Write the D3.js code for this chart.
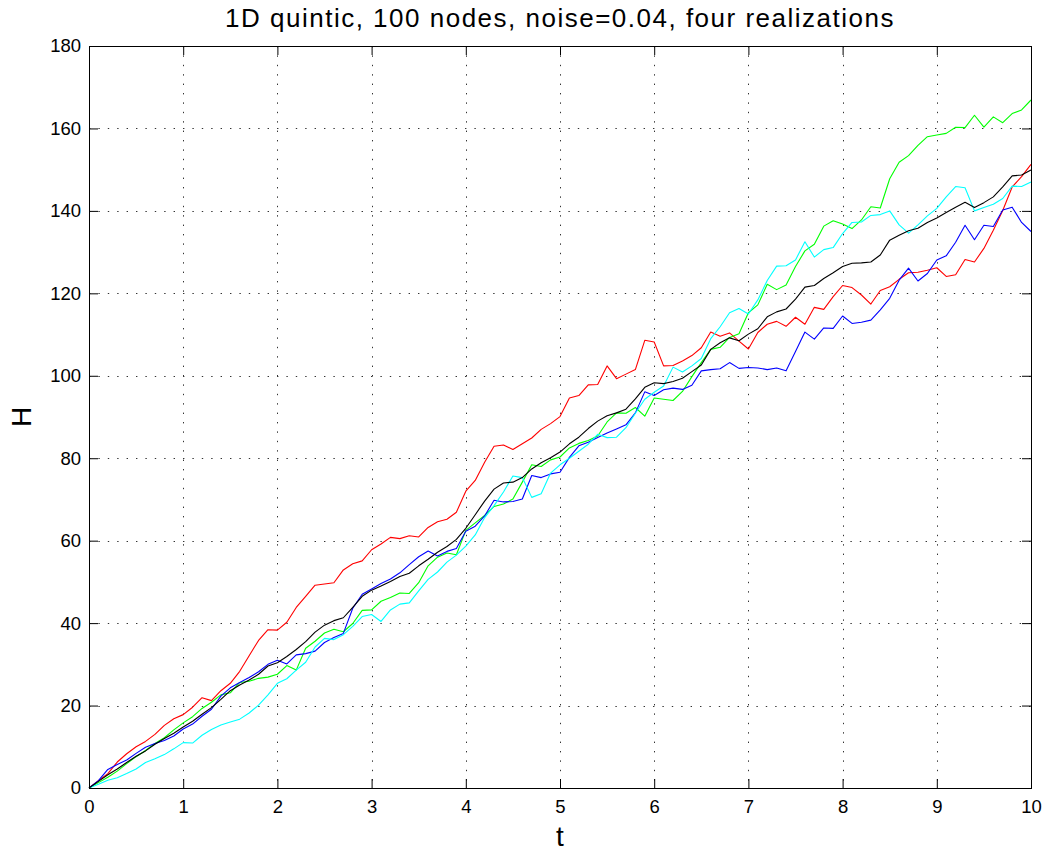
<!DOCTYPE html>
<html>
<head>
<meta charset="utf-8">
<script src="https://cdn.jsdelivr.net/npm/d3@7"></script>
<style>
  body { margin: 0; background: #fff; }
  text { font-family: "Liberation Sans", Arial, sans-serif; fill: #000; }
</style>
</head>
<body>
<svg id="chart" width="1044" height="852"></svg>
<script>
// tick labels
var xTicks = [0, 1, 2, 3, 4, 5, 6, 7, 8, 9, 10];
var yTicks = [0, 20, 40, 60, 80, 100, 120, 140, 160, 180];

// sample spacing in t (values below are read every 0.1)
var tStep = 0.1;

// H, one value per 0.1 in t
var redH = [0, 1.8, 3.5, 6.3, 8.3, 10, 11.3, 13, 15.2, 16.8,
  17.8, 19.6, 21.9, 21.2, 23.6, 25.4, 28.3, 32.1, 35.8, 38.4,
  38.3, 40.2, 43.8, 46.5, 49.2, 49.5, 49.8, 52.9, 54.4, 55.1,
  57.8, 59.2, 60.8, 60.5, 61.2, 60.9, 63.2, 64.6, 65.2, 66.9,
  72.0, 74.6, 79.0, 82.9, 83.2, 82.1, 83.5, 84.9, 87.0, 88.4,
  90.1, 94.6, 95.2, 97.8, 97.9, 102.4, 99.3, 100.4, 101.5, 108.6,
  108.2, 102.4, 102.5, 103.6, 104.9, 106.8, 110.6, 109.6, 110.4, 108.4,
  106.5, 110.5, 112.5, 113.2, 112.0, 114.2, 112.5, 116.6, 116.1, 119.2,
  121.9, 121.4, 119.6, 117.4, 120.7, 121.6, 123.4, 125.0, 125.1, 125.6,
  126.2, 124.1, 124.5, 128.2, 127.6, 130.9, 135.3, 140.1, 145.8, 148.3,
  151.3];

var greenH = [0, 1.3, 2.6, 4.1, 5.9, 7.6, 9.1, 10.8, 12.2, 14.1,
  15.8, 17.3, 19.3, 20.8, 22.6, 23.1, 25.6, 25.9, 26.6, 26.9,
  27.6, 29.7, 28.6, 33.9, 35.6, 37.6, 38.5, 37.9, 39.9, 43.1,
  43.2, 45.3, 46.2, 47.3, 47.2, 49.8, 53.9, 56.0, 57.0, 56.6,
  62.5, 64.3, 66.1, 68.3, 68.9, 70.1, 74.2, 78.4, 78.0, 79.6,
  80.3, 82.5, 83.6, 84.3, 85.4, 88.8, 91.0, 90.9, 92.3, 90.2,
  94.6, 94.3, 94.0, 96.2, 99.8, 103.2, 106.4, 106.9, 109.3, 110.2,
  115.3, 117.2, 122.2, 120.9, 122.0, 126.5, 130.3, 131.9, 136.3, 137.6,
  136.8, 135.7, 137.8, 141.0, 140.7, 147.8, 151.8, 153.4, 155.9, 158.0,
  158.4, 158.8, 160.3, 160.2, 163.2, 160.3, 162.8, 161.4, 163.6, 164.5,
  166.9];

var blueH = [0, 1.8, 4.5, 5.7, 6.8, 8.4, 9.9, 10.8, 11.5, 12.6,
  14.3, 15.5, 17.4, 19.1, 22.3, 24.3, 25.6, 26.8, 28.2, 30.0,
  31.0, 30.1, 32.3, 32.6, 33.2, 35.3, 36.5, 37.5, 43.6, 47.0,
  48.3, 49.6, 50.7, 52.2, 54.2, 56.1, 57.5, 56.3, 57.4, 58.1,
  62.3, 63.5, 66.0, 69.8, 69.4, 69.5, 70.1, 75.8, 75.3, 76.2,
  76.6, 80.2, 83.0, 83.9, 85.0, 86.1, 87.1, 88.1, 91.0, 96.1,
  95.2, 96.6, 97.0, 96.7, 97.7, 101.2, 101.5, 101.7, 103.2, 101.8,
  102.0, 101.9, 101.5, 101.9, 101.2, 105.9, 110.6, 108.9, 111.6, 111.5,
  114.5, 112.7, 113.0, 113.5, 116.0, 118.8, 123.2, 126.1, 123.0, 124.8,
  128.1, 129.1, 132.4, 136.5, 133.0, 136.5, 136.2, 140.2, 140.9, 137.2,
  135.0];

var cyanH = [0, 0.9, 1.9, 2.5, 3.5, 4.6, 6.2, 7.1, 8.1, 9.5,
  11.0, 10.9, 12.8, 14.2, 15.3, 16.0, 16.7, 18.2, 20.1, 22.6,
  25.4, 26.5, 28.6, 30.5, 34.2, 36.3, 36.0, 37.2, 39.2, 41.6,
  42.1, 40.4, 43.2, 44.6, 44.9, 47.8, 50.6, 52.4, 54.8, 56.5,
  58.7, 61.4, 65.6, 68.5, 71.8, 75.7, 75.3, 70.5, 71.4, 76.4,
  78.4, 80.0, 81.7, 83.4, 85.8, 85.0, 85.1, 87.4, 90.9, 94.3,
  96.0, 97.5, 102.1, 100.9, 102.4, 104.2, 109.0, 111.9, 115.3, 116.3,
  115.0, 118.4, 123.1, 126.6, 126.7, 128.1, 132.5, 128.8, 130.6, 131.1,
  134.5, 137.2, 137.3, 138.9, 139.1, 140.0, 136.6, 134.6, 136.6, 138.8,
  140.6, 143.4, 145.9, 145.6, 140.0, 140.8, 141.6, 143.0, 146.0, 145.9,
  147.0];

var meanH = [0, 1.6, 3.2, 4.6, 6.2, 7.7, 9.0, 10.6, 12.0, 13.3,
  14.8, 16.2, 17.9, 19.5, 21.5, 23.6, 25.0, 26.2, 27.6, 29.6,
  30.4, 31.9, 33.6, 35.5, 37.8, 39.5, 40.6, 41.3, 43.8, 46.5,
  48.0, 49.0, 50.1, 51.3, 52.1, 53.9, 55.5, 57.2, 58.6, 60.3,
  63.0, 66.3, 69.6, 72.5, 74.0, 74.2, 75.3, 77.4, 78.9, 80.1,
  81.5, 83.5, 85.1, 87.2, 89.0, 90.3, 91.0, 91.9, 94.4, 97.2,
  98.3, 98.1, 98.6, 99.4, 101.0, 102.6, 106.4, 108.0, 109.2, 108.5,
  110.1, 111.4, 114.3, 115.5, 116.2, 118.6, 121.5, 121.9, 123.6, 125.0,
  126.5, 127.3, 127.4, 127.6, 129.3, 132.9, 134.1, 135.2, 135.8, 137.2,
  138.3, 139.6, 140.9, 142.1, 140.8, 142.0, 143.4, 145.8, 148.5, 148.7,
  149.9];

var seriesList = [
  { name: "red", values: redH, color: "#ff0000" },
  { name: "green", values: greenH, color: "#00ff00" },
  { name: "blue", values: blueH, color: "#0000ff" },
  { name: "cyan", values: cyanH, color: "#00ffff" },
  { name: "mean", values: meanH, color: "#000000" }
];

// plot box
var boxLeft = 89, boxRight = 1031, boxTop = 46, boxBottom = 788;

var svg = d3.select("#chart");

var x = d3.scaleLinear().domain([0, 10]).range([boxLeft, boxRight]);
var y = d3.scaleLinear().domain([0, 180]).range([boxBottom, boxTop]);

// dotted grid
svg.append("g")
  .selectAll("line")
  .data(xTicks.slice(1, -1))
  .enter()
  .append("line")
    .attr("x1", function(d) { return Math.round(x(d)) + 0.5; })
    .attr("x2", function(d) { return Math.round(x(d)) + 0.5; })
    .attr("y1", boxTop)
    .attr("y2", boxBottom)
    .attr("stroke", "#333")
    .attr("stroke-width", 1)
    .attr("stroke-dasharray", "1.4,8");

svg.append("g")
  .selectAll("line")
  .data(yTicks.slice(1, -1))
  .enter()
  .append("line")
    .attr("y1", function(d) { return Math.round(y(d)) + 0.5; })
    .attr("y2", function(d) { return Math.round(y(d)) + 0.5; })
    .attr("x1", boxLeft)
    .attr("x2", boxRight)
    .attr("stroke", "#333")
    .attr("stroke-width", 1)
    .attr("stroke-dasharray", "1.4,8");

// the lines
var line = d3.line()
  .x(function(d, i) { return x(i * tStep); })
  .y(function(d) { return y(d); });

svg.append("g")
  .selectAll("path")
  .data(seriesList)
  .enter()
  .append("path")
    .attr("d", function(d) { return line(d.values); })
    .attr("fill", "none")
    .attr("stroke", function(d) { return d.color; })
    .attr("stroke-width", 1.1)
    .attr("stroke-linejoin", "round");

// axes, MATLAB-style: ticks inside, box on all four sides
var tickLen = 9;
var xAxisB = d3.axisBottom(x).tickValues(xTicks).tickSizeInner(-tickLen).tickSizeOuter(0).tickPadding(12);
var xAxisT = d3.axisTop(x).tickValues(xTicks).tickSizeInner(-tickLen).tickSizeOuter(0).tickFormat("");
var yAxisL = d3.axisLeft(y).tickValues(yTicks).tickSizeInner(-tickLen).tickSizeOuter(0).tickPadding(8);
var yAxisR = d3.axisRight(y).tickValues(yTicks).tickSizeInner(-tickLen).tickSizeOuter(0).tickFormat("");

function styleAxis(g) {
  g.select(".domain").remove();
  g.attr("font-size", null).attr("font-family", null);
  g.selectAll("line").attr("stroke", "#000");
  g.selectAll("text").style("font-size", "18.5px");
}

svg.append("g").attr("transform", "translate(0," + boxBottom + ")").call(xAxisB).call(styleAxis);
svg.append("g").attr("transform", "translate(0," + boxTop + ")").call(xAxisT).call(styleAxis);
svg.append("g").attr("transform", "translate(" + boxLeft + ",0)").call(yAxisL).call(styleAxis);
svg.append("g").attr("transform", "translate(" + boxRight + ",0)").call(yAxisR).call(styleAxis);

svg.append("rect")
  .attr("x", boxLeft + 0.5)
  .attr("y", boxTop + 0.5)
  .attr("width", boxRight - boxLeft)
  .attr("height", boxBottom - boxTop)
  .attr("fill", "none")
  .attr("stroke", "#000")
  .attr("stroke-width", 1);

// title and labels
svg.append("text")
  .attr("x", (boxLeft + boxRight) / 2)
  .attr("y", 27)
  .attr("text-anchor", "middle")
  .style("font-size", "26px")
  .style("letter-spacing", "1.5px")
  .text("1D quintic, 100 nodes, noise=0.04, four realizations");

svg.append("text")
  .attr("x", (boxLeft + boxRight) / 2)
  .attr("y", 846)
  .attr("text-anchor", "middle")
  .style("font-size", "28px")
  .text("t");

svg.append("text")
  .attr("transform", "translate(31," + ((boxTop + boxBottom) / 2) + ") rotate(-90)")
  .attr("text-anchor", "middle")
  .style("font-size", "28px")
  .text("H");
</script>
</body>
</html>
